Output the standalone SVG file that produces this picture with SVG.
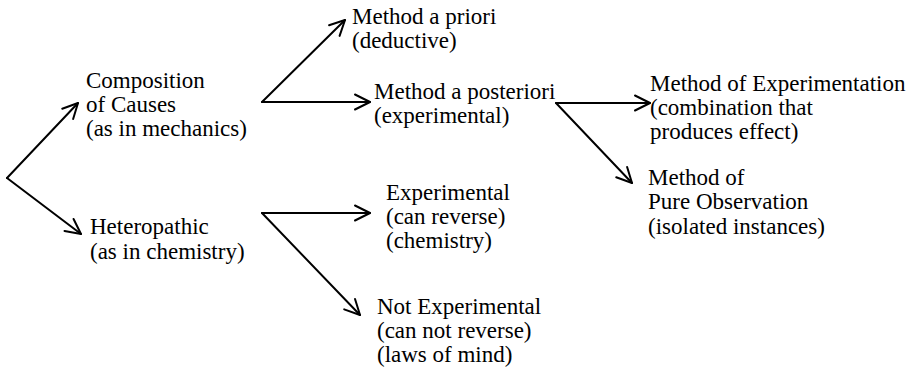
<svg xmlns="http://www.w3.org/2000/svg" width="919" height="372" viewBox="0 0 919 372" font-family="'Liberation Serif', 'DejaVu Serif', serif">
<style>
text{font-family:'Liberation Serif','DejaVu Serif',serif;font-size:23px;fill:#000}
.c line{stroke:#000;stroke-width:2;fill:none;stroke-linecap:round}
</style>
<defs>
<marker id="ah" markerUnits="userSpaceOnUse" markerWidth="24" markerHeight="24" viewBox="-18 -12 22 24" refX="0" refY="0" orient="auto">
<path d="M-15,-7.5 L0,0 L-15,7.5" fill="none" stroke="#000" stroke-width="2" stroke-linecap="round" stroke-linejoin="round"/>
</marker>
</defs>
<rect width="919" height="372" fill="#fff"/>
<g id="connectors" class="c">
<line x1="7" y1="178" x2="78" y2="103" marker-end="url(#ah)"/>
<line x1="7" y1="178" x2="81" y2="234" marker-end="url(#ah)"/>
<line x1="262" y1="102" x2="345" y2="20" marker-end="url(#ah)"/>
<line x1="262" y1="102" x2="370" y2="102" marker-end="url(#ah)"/>
<line x1="556" y1="103" x2="650" y2="103" marker-end="url(#ah)"/>
<line x1="556" y1="103" x2="632" y2="183" marker-end="url(#ah)"/>
<line x1="262" y1="213" x2="370" y2="213" marker-end="url(#ah)"/>
<line x1="262" y1="213" x2="360" y2="315" marker-end="url(#ah)"/>
</g>
<g id="composition"><text x="86" y="88">Composition</text><text x="86" y="112">of Causes</text><text x="86" y="136">(as in mechanics)</text></g>
<g id="heteropathic"><text x="90" y="234">Heteropathic</text><text x="90" y="259">(as in chemistry)</text></g>
<g id="apriori"><text x="352" y="24">Method a priori</text><text x="352" y="48">(deductive)</text></g>
<g id="aposteriori"><text x="374" y="99">Method a posteriori</text><text x="374" y="123">(experimental)</text></g>
<g id="experimental"><text x="386" y="200">Experimental</text><text x="386" y="224">(can reverse)</text><text x="386" y="248">(chemistry)</text></g>
<g id="notexperimental"><text x="377" y="314">Not Experimental</text><text x="377" y="338">(can not reverse)</text><text x="377" y="362">(laws of mind)</text></g>
<g id="experimentation"><text x="650" y="91">Method of Experimentation</text><text x="650" y="115">(combination that</text><text x="650" y="139">produces effect)</text></g>
<g id="observation"><text x="648" y="185">Method of</text><text x="648" y="209">Pure Observation</text><text x="648" y="234">(isolated instances)</text></g>
</svg>
